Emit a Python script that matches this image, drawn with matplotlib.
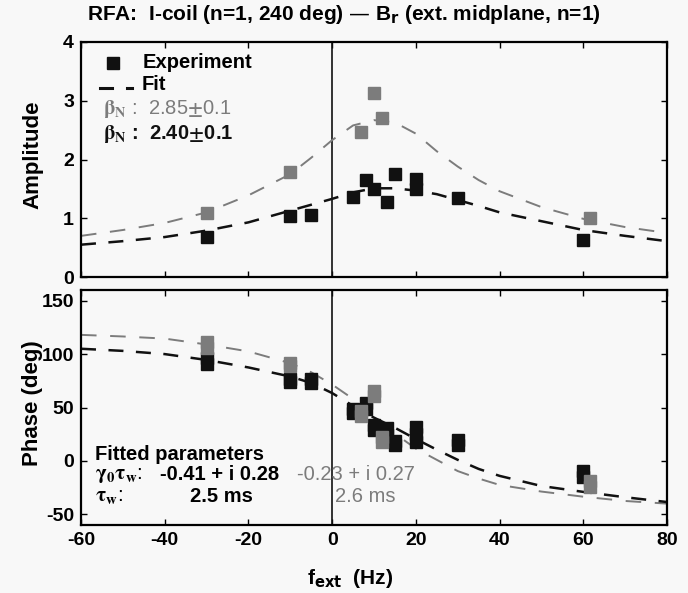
import matplotlib
matplotlib.use('Agg')
import matplotlib.pyplot as plt

# amplitude data
amp_x_black = [-30, -10, -5, 5, 8, 10, 13, 15, 20, 20, 30, 60]
amp_y_black = [0.68, 1.03, 1.06, 1.36, 1.65, 1.49, 1.28, 1.76, 1.67, 1.50, 1.35, 0.63]
amp_x_grey = [-30, -10, 7, 10, 12, 61.5]
amp_y_grey = [1.09, 1.78, 2.46, 3.13, 2.70, 1.00]

# phase data
ph_x_black = [-30, -30, -10, -10, -5, -5, 5, 5, 8, 8, 10, 10, 13, 13, 15, 15, 20, 20, 20, 30, 30, 60, 60]
ph_y_black = [96.5, 91, 77, 74, 76.5, 73, 49, 45, 54, 49, 34, 29, 31, 24, 19, 14.5, 32, 25, 18, 20, 15, -9.5, -15.5]
ph_x_grey = [-30, -30, -10, -10, 7, 7, 10, 10, 12, 12, 61.5, 61.5]
ph_y_grey = [111, 106, 92, 89, 46.5, 42.5, 65.5, 61, 22, 17.5, -19, -24]

# fit curves
fit_x = [-60, -50, -40, -30, -20, -10, -5, 0, 5, 10, 15, 20, 25, 30, 35, 40, 50, 60, 70, 80]
amp_fit_grey = [0.70, 0.80, 0.92, 1.10, 1.39, 1.75, 2.03, 2.33, 2.58, 2.67, 2.63, 2.44, 2.14, 1.88, 1.65, 1.46, 1.19, 0.99, 0.85, 0.75]
amp_fit_black = [0.55, 0.61, 0.68, 0.79, 0.93, 1.13, 1.23, 1.33, 1.44, 1.51, 1.51, 1.47, 1.41, 1.31, 1.21, 1.10, 0.95, 0.80, 0.70, 0.61]
ph_fit_grey = [118, 116.5, 114.5, 109, 102.5, 91.5, 83, 71.5, 58, 41, 25.5, 11.5, 1, -9.5, -16.5, -22.5, -28.7, -33.5, -37.5, -40]
ph_fit_black = [105, 103, 100, 94.5, 87.5, 79, 73, 63.5, 51.5, 40.5, 31, 20.5, 10.5, 1, -7.5, -14, -23.5, -29, -34, -38.5]

xticks = [-60, -40, -20, 0, 20, 40, 60, 80]

plt.rcParams['font.family'] = ['Liberation Sans', 'DejaVu Sans']
plt.rcParams['font.weight'] = 'bold'
plt.rcParams['axes.unicode_minus'] = False

BLACK = '#111111'
GREY = '#7c7c7c'
BG = '#f8f8f8'
FS = 14.5

fig = plt.figure(figsize=(6.88, 5.93), dpi=100, facecolor=BG)
ax1 = fig.add_axes([81/688, 1-277/593, 586/688, 235/593], facecolor=BG)
ax2 = fig.add_axes([81/688, 1-525/593, 586/688, 235/593], facecolor=BG)

for ax in (ax1, ax2):
    for s in ax.spines.values():
        s.set_linewidth(1.6)
    ax.tick_params(direction='in', length=4, width=1, top=True, right=True,
                   labelsize=14, pad=5)
    ax.set_xlim(-60, 80)
    ax.set_xticks(xticks)
    ax.axvline(0, color=BLACK, lw=1.2)
    for lab in ax.get_yticklabels() + ax.get_xticklabels():
        lab.set_fontweight('bold')

# amplitude panel
l, = ax1.plot(fit_x, amp_fit_grey, color=GREY, lw=1.4)
l.set_dashes((8, 7))
l, = ax1.plot(fit_x, amp_fit_black, color=BLACK, lw=1.8)
l.set_dashes((6, 5))
ax1.plot(amp_x_black, amp_y_black, 's', color=BLACK, ms=8.5, zorder=3)
ax1.plot(amp_x_grey, amp_y_grey, 's', color=GREY, ms=8.5, zorder=4)
ax1.set_ylim(0, 4)
ax1.set_yticks([0, 1, 2, 3, 4])
ax1.tick_params(labelbottom=False)
ax1.set_ylabel('Amplitude', fontsize=16, fontweight='bold')
ax1.yaxis.set_label_coords(-0.064, 0.52)

# legend text
ax1.plot([0.055], [0.911], 's', color=BLACK, ms=8, transform=ax1.transAxes, clip_on=False)
ax1.text(0.106, 0.911, 'Experiment', transform=ax1.transAxes, fontsize=FS,
         fontweight='bold', va='center')
ax1.plot([0.033, 0.053], [0.804, 0.804], color=BLACK, lw=2.2, transform=ax1.transAxes)
ax1.plot([0.078, 0.087], [0.804, 0.804], color=BLACK, lw=2.2, transform=ax1.transAxes)
ax1.text(0.103, 0.82, 'Fit', transform=ax1.transAxes, fontsize=FS,
         fontweight='bold', va='center')
ax1.text(0.037, 0.715, r'$\mathrm{\beta_N}$ :  2.85$\pm$0.1', transform=ax1.transAxes,
         fontsize=FS, fontweight='normal', color=GREY, va='center',
         math_fontfamily='stix')
ax1.text(0.037, 0.61, r'$\mathrm{\beta_N}$ :  2.40$\pm$0.1', transform=ax1.transAxes,
         fontsize=FS, fontweight='bold', color=BLACK, va='center',
         math_fontfamily='stix')

# phase panel
l, = ax2.plot(fit_x, ph_fit_grey, color=GREY, lw=1.4)
l.set_dashes((8, 7))
l, = ax2.plot(fit_x, ph_fit_black, color=BLACK, lw=1.8)
l.set_dashes((6, 5))
ax2.plot(ph_x_black, ph_y_black, 's', color=BLACK, ms=8.5, zorder=3)
ax2.plot(ph_x_grey, ph_y_grey, 's', color=GREY, ms=8.5, zorder=4)
ax2.set_ylim(-60, 160)
ax2.set_yticks([-50, 0, 50, 100, 150])
ax2.set_ylabel('Phase (deg)', fontsize=16, fontweight='bold')
ax2.yaxis.set_label_coords(-0.064, 0.52)
ax2.set_xlabel(r'f$_{\rm ext}$  (Hz)', fontsize=15, fontweight='bold')
ax2.xaxis.set_label_coords(0.459, -0.18)

ax2.text(0.024, 0.302, 'Fitted parameters', transform=ax2.transAxes,
         fontsize=FS, fontweight='bold', va='center')
ax2.text(0.024, 0.21, r'$\mathrm{\gamma_0\tau_w}$:', transform=ax2.transAxes,
         fontsize=15, fontweight='normal', va='center', math_fontfamily='stix')
ax2.text(0.135, 0.213, '-0.41 + i 0.28', transform=ax2.transAxes,
         fontsize=FS, fontweight='bold', va='center')
ax2.text(0.369, 0.213, '-0.23 + i 0.27', transform=ax2.transAxes,
         fontsize=FS, fontweight='normal', color=GREY, va='center')
ax2.text(0.024, 0.12, r'$\mathrm{\tau_w}$:', transform=ax2.transAxes,
         fontsize=15, fontweight='normal', va='center', math_fontfamily='stix')
ax2.text(0.186, 0.123, '2.5 ms', transform=ax2.transAxes,
         fontsize=FS, fontweight='bold', va='center')
ax2.text(0.433, 0.123, '2.6 ms', transform=ax2.transAxes,
         fontsize=FS, fontweight='normal', color=GREY, va='center')

fig.text(0.5, 1-14/593, 'RFA:  I-coil (n=1, 240 deg) \u2014 B$_{\\rm r}$ (ext. midplane, n=1)',
         ha='center', va='center', fontsize=15, fontweight='bold')

fig.savefig('out.png', dpi=100, facecolor=BG)
